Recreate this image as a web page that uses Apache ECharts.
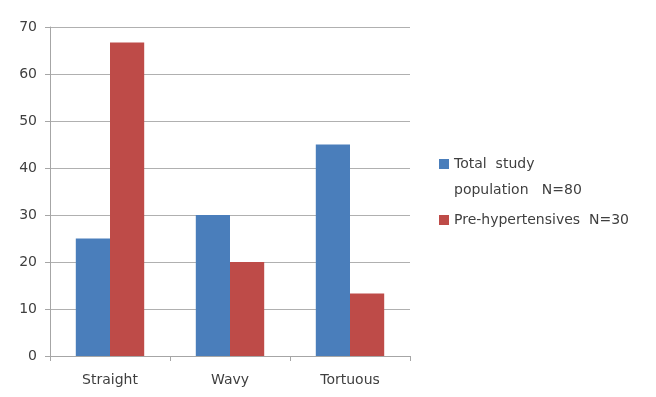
<!DOCTYPE html>
<html><head><meta charset="utf-8">
<script src="https://cdn.jsdelivr.net/npm/echarts@6/dist/echarts.min.js"></script>
<style>html,body{margin:0;padding:0;background:#fff}#c{width:656px;height:397px}</style>
</head><body><div id="c"></div>
<script>
const categories = ['Straight', 'Wavy', 'Tortuous'];
const totalPopulation = [25, 30, 45];
const preHypertensives = [66.7, 20, 13.3];
const seriesNames = ['Total  study\npopulation   N=80', 'Pre-hypertensives  N=30'];
const yTicks = [0, 10, 20, 30, 40, 50, 60, 70];

const chart = echarts.init(document.getElementById('c'));
chart.setOption({
  backgroundColor: '#fff',
  animation: false,
  textStyle: { fontFamily: '"DejaVu Sans", sans-serif' },
  grid: { left: 50, right: 246, top: 27, bottom: 41, containLabel: false },
  legend: {
    orient: 'vertical', left: 434, top: 120, itemGap: 4,
    icon: 'rect', itemWidth: 10, itemHeight: 10, itemStyle: { borderWidth: 0 },
    data: seriesNames,
    formatter: function (name) { return name.indexOf('\n') >= 0 ? '\n' + name : name; },
    textStyle: { fontSize: 14, color: '#3f3f3f', lineHeight: 26 }
  },
  xAxis: {
    type: 'category', data: categories,
    axisLine: { lineStyle: { color: '#a6a6a6' } },
    axisTick: { show: true, alignWithLabel: false, length: 5, lineStyle: { color: '#a6a6a6' } },
    axisLabel: { fontSize: 14, color: '#3f3f3f', margin: 17 }
  },
  yAxis: {
    type: 'value', min: yTicks[0], max: yTicks[yTicks.length - 1], interval: 10,
    axisLine: { show: true, lineStyle: { color: '#a6a6a6' } },
    axisTick: { show: true, length: 5, inside: false, lineStyle: { color: '#a6a6a6' } },
    axisLabel: { fontSize: 14, color: '#3f3f3f', margin: 13 },
    splitLine: { lineStyle: { color: '#b0b0b0' } }
  },
  series: [
    { name: seriesNames[0], type: 'bar', data: totalPopulation, barGap: '0%', barCategoryGap: '43%',
      itemStyle: { color: '#4a7ebb' } },
    { name: seriesNames[1], type: 'bar', data: preHypertensives, barGap: '0%', barCategoryGap: '43%',
      itemStyle: { color: '#be4b48' } }
  ]
});
</script></body></html>
